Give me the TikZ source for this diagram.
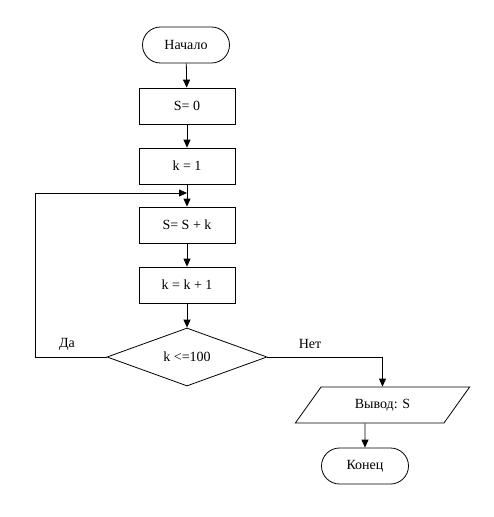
\documentclass[tikz,border=0pt]{standalone}
\usepackage{fontspec}
\setmainfont{Liberation Serif}
\usetikzlibrary{shapes.geometric,shapes.misc,arrows.meta}

\begin{document}
\begin{tikzpicture}[x=1pt,y=-1pt,
      >={Triangle[length=8pt,width=7pt]},
      every node/.style={font=\fontsize{14}{16}\selectfont},
      every path/.style={line width=0.8pt},
      termbox/.style={rounded rectangle, draw, minimum width=87pt, minimum height=36pt, inner sep=0pt},
      actbox/.style={rectangle, draw, minimum width=96pt, minimum height=36pt, inner sep=0pt},
      testbox/.style={diamond, draw, minimum width=160pt, minimum height=58pt, inner sep=0pt},
      iobox/.style={trapezium, draw, trapezium left angle=46, trapezium right angle=134,
        trapezium stretches=true, minimum width=175pt, minimum height=36pt, inner sep=0pt}]

    \useasboundingbox (0,0) rectangle (493,517);

    \node[termbox] (start) at (186,45) {Начало};
    \node[actbox]  (s0)    at (187,106) {S= 0};
    \node[actbox]  (k1)    at (187,166) {k = 1};
    \node[actbox]  (sum)   at (187,225) {S= S + k};
    \node[actbox]  (inc)   at (187,285) {k = k + 1};
    \node[testbox] (cond)  at (187,357) {k <=100};
    \node[iobox]   (out)   at (382.5,405) {Вывод: S};
    \node[termbox] (stop)  at (365,466) {Конец};

    \node (yes) at (67,344) {Да};
    \node (no)  at (310,344) {Нет};

    \coordinate (join) at (187,193);
    \coordinate (lc)   at (35,193);

    \draw[->] (start) -- (s0);
    \draw[->] (s0)    -- (k1);
    \draw[->] (k1)    -- (sum);
    \draw[->] (sum)   -- (inc);
    \draw[->] (inc)   -- (cond);

    \draw[->] (cond.west) -| (lc) -- (join);
    \draw[->] (cond.east) -| (out.north);
    \draw[->] (out.south -| stop) -- (stop);

  \end{tikzpicture}
\end{document}
